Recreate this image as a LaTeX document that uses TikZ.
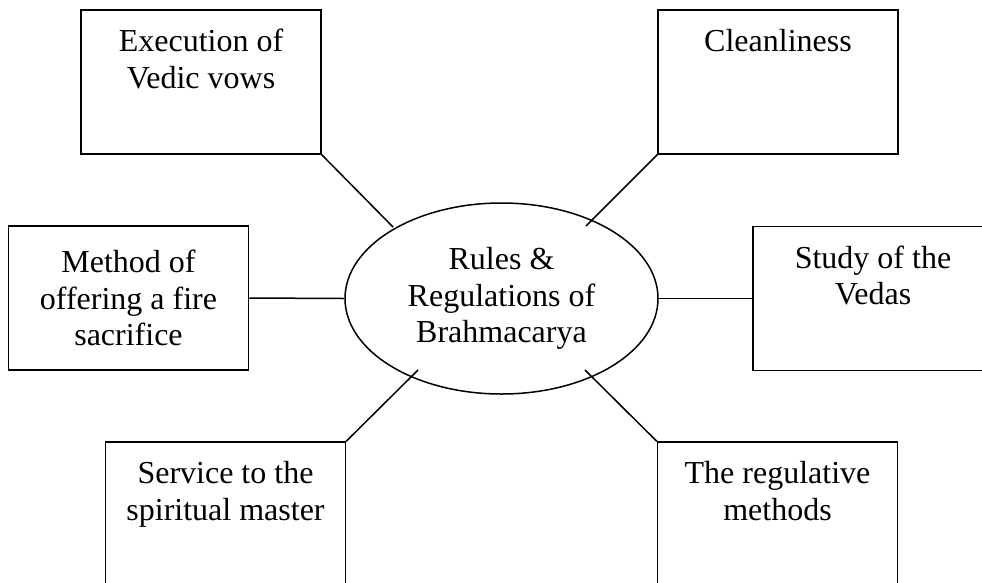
\documentclass[tikz,border=0pt]{standalone}
\usepackage{fontspec}
\setmainfont{Liberation Serif}
\usetikzlibrary{shapes.geometric,calc}
\begin{document}
\begin{tikzpicture}[x=1pt,y=-1pt,
  every node/.style={font=\fontsize{32}{36.5}\selectfont},
  box/.style={draw, line width=1.5pt, minimum width=240pt, minimum height=144pt, inner sep=0pt, align=center},
  hub/.style={draw, ellipse, line width=1.5pt, minimum width=313pt, minimum height=191pt, inner sep=0pt, align=center},
  caption/.style={align=center, anchor=north, inner sep=0pt},
  link/.style={line width=1.5pt}]
\useasboundingbox (0,0) rectangle (982,582);

% central topic
\node[hub] (hub) at (501.5,298.5) {Rules \&\\Regulations of\\Brahmacarya};

% surrounding boxes
\node[box] (vows)    at (201,82)    {};
\node[box] (clean)   at (778,82)    {};
\node[box] (fire)    at (128.5,298) {Method of\\offering a fire\\sacrifice};
\node[box] (vedas)   at (873,298.5) {};
\node[box] (service) at (225.5,514) {};
\node[box] (methods) at (777.5,514) {};

% box captions, set near the top edge
\node[caption] (tvows)    at ($(vows.north)+(0,20)$)    {Execution of\\Vedic vows};
\node[caption] (tclean)   at ($(clean.north)+(0,20)$)   {Cleanliness};
\node[caption] (tvedas)   at ($(vedas.north)+(0,20)$)   {Study of the\\Vedas};
\node[caption] (tservice) at ($(service.north)+(0,20)$) {Service to the\\spiritual master};
\node[caption] (tmethods) at ($(methods.north)+(0,20)$) {The regulative\\methods};

% connector ends at the ellipse
\coordinate (pvows)    at (393,227);
\coordinate (pclean)   at (586,226);
\coordinate (pservice) at (418,370);
\coordinate (pmethods) at (585,370);

\draw[link] (vows.south east) -- (pvows);
\draw[link] (clean.south west) -- (pclean);
\draw[link] (fire.east) -- (hub.west);
\draw[link] (hub.east) -- (vedas.west);
\draw[link] (service.north east) -- (pservice);
\draw[link] (methods.north west) -- (pmethods);
\end{tikzpicture}
\end{document}
